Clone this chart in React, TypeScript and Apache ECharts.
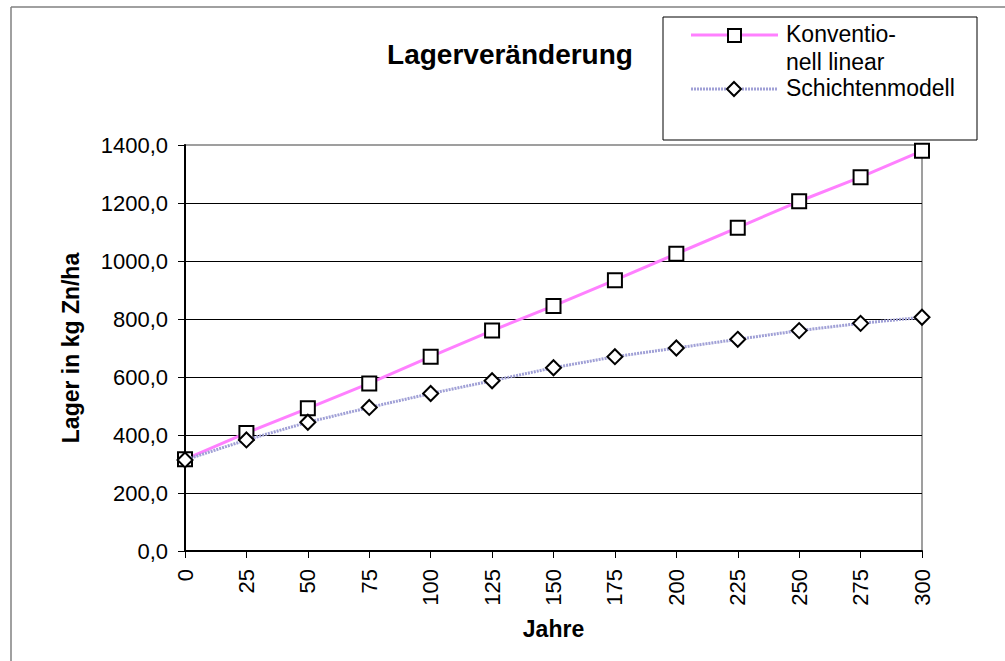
import React, { useEffect, useRef } from "react";
import * as echarts from "echarts";

const years = [0, 25, 50, 75, 100, 125, 150, 175, 200, 225, 250, 275, 300];
const konventionell = [316, 407, 492, 578, 670, 760, 845, 934, 1025, 1115, 1206, 1289, 1380];
const schichtenmodell = [314, 383, 444, 495, 543, 587, 632, 670, 700, 730, 760, 785, 806];
const seriesNames = ["Konventio-\nnell linear", "Schichtenmodell"];
const titleText = "Lagerveränderung";
const xName = "Jahre";
const yName = "Lager in kg Zn/ha";

const FONT = "'Liberation Sans', Arial, Helvetica, sans-serif";
const PINK = "#FF80FF";
const LAV = "#A0A0D6";

export default function App() {
  const ref = useRef<HTMLDivElement>(null);
  useEffect(() => {
    if (!ref.current) return;
    const chart = echarts.init(ref.current, undefined, { renderer: "svg" });
    const k = years.map((y, i) => [y, konventionell[i]]);
    const s = years.map((y, i) => [y, schichtenmodell[i]]);
    chart.setOption({
      animation: false,
      backgroundColor: "#fff",
      title: {
        text: titleText,
        left: 510,
        top: 40,
        textAlign: "center",
        padding: 0,
        textStyle: { fontFamily: FONT, fontSize: 28, fontWeight: "bold", color: "#000" },
      },
      grid: {
        left: 185,
        right: 83,
        top: 145,
        bottom: 110,
        show: true,
        borderColor: "#808080",
        borderWidth: 1.5,
        backgroundColor: "transparent",
      },
      xAxis: {
        type: "value",
        min: 0,
        max: 300,
        interval: 25,
        name: xName,
        nameLocation: "middle",
        nameGap: 66,
        nameTextStyle: { fontFamily: FONT, fontSize: 23, fontWeight: "bold", color: "#000" },
        axisLine: { show: true, onZero: false, lineStyle: { color: "#000", width: 2 } },
        axisTick: { show: true, length: 7, lineStyle: { color: "#000", width: 1 } },
        axisLabel: {
          rotate: 90,
          margin: 18,
          fontFamily: FONT,
          fontSize: 22,
          color: "#000",
        },
        splitLine: { show: false },
      },
      yAxis: {
        type: "value",
        min: 0,
        max: 1400,
        interval: 200,
        name: yName,
        nameLocation: "middle",
        nameRotate: 90,
        nameGap: 103,
        nameTextStyle: { fontFamily: FONT, fontSize: 23, fontWeight: "bold", color: "#000" },
        axisLine: { show: true, lineStyle: { color: "#000", width: 2 } },
        axisTick: { show: true, length: 7, lineStyle: { color: "#000", width: 1 } },
        axisLabel: {
          margin: 17,
          fontFamily: FONT,
          fontSize: 22,
          color: "#000",
          formatter: (v: number) => v.toFixed(1).replace(".", ","),
        },
        splitLine: { show: true, showMaxLine: false, lineStyle: { color: "#000", width: 1 } },
      },
      series: [
        {
          name: seriesNames[0],
          type: "line",
          data: k,
          symbol: "rect",
          symbolSize: 14,
          lineStyle: { color: PINK, width: 3 },
          itemStyle: { color: "#fff", borderColor: "#000", borderWidth: 2 },
          z: 3,
        },
        {
          name: seriesNames[1],
          type: "line",
          data: s,
          symbol: "diamond",
          symbolSize: [15, 15],
          lineStyle: { color: LAV, width: 3, type: [2, 1] },
          itemStyle: { color: "#fff", borderColor: "#000", borderWidth: 2 },
          z: 4,
        },
      ],
      graphic: [
        {
          type: "line",
          shape: { x1: 11, y1: 7, x2: 1005, y2: 7 },
          style: { stroke: "#808080", lineWidth: 1.5 },
        },
        {
          type: "line",
          shape: { x1: 11, y1: 7, x2: 11, y2: 661 },
          style: { stroke: "#808080", lineWidth: 1.5 },
        },
        {
          type: "rect",
          shape: { x: 663, y: 17, width: 314, height: 123 },
          style: { fill: "#fff", stroke: "#000", lineWidth: 1 },
          z: 10,
        },
        {
          type: "line",
          shape: { x1: 691, y1: 35, x2: 778, y2: 35 },
          style: { stroke: PINK, lineWidth: 3 },
          z: 11,
        },
        {
          type: "rect",
          shape: { x: 728, y: 29, width: 13, height: 13 },
          style: { fill: "#fff", stroke: "#000", lineWidth: 2 },
          z: 12,
        },
        {
          type: "text",
          x: 786,
          y: 34,
          style: { text: "Konventio-", font: `23px ${FONT}`, fill: "#000", verticalAlign: "middle" },
          z: 12,
        },
        {
          type: "text",
          x: 786,
          y: 62,
          style: { text: "nell linear", font: `23px ${FONT}`, fill: "#000", verticalAlign: "middle" },
          z: 12,
        },
        {
          type: "line",
          shape: { x1: 691, y1: 89, x2: 778, y2: 89 },
          style: { stroke: LAV, lineWidth: 3, lineDash: [2, 1] },
          z: 11,
        },
        {
          type: "polygon",
          shape: { points: [[734, 82], [741, 89], [734, 96], [727, 89]] },
          style: { fill: "#fff", stroke: "#000", lineWidth: 2 },
          z: 12,
        },
        {
          type: "text",
          x: 786,
          y: 88,
          style: { text: "Schichtenmodell", font: `23px ${FONT}`, fill: "#000", verticalAlign: "middle" },
          z: 12,
        },
      ],
    });
    return () => chart.dispose();
  }, []);
  return (
    <div
      ref={ref}
      style={{ position: "absolute", left: 0, top: 0, width: 1005, height: 661 }}
    />
  );
}
